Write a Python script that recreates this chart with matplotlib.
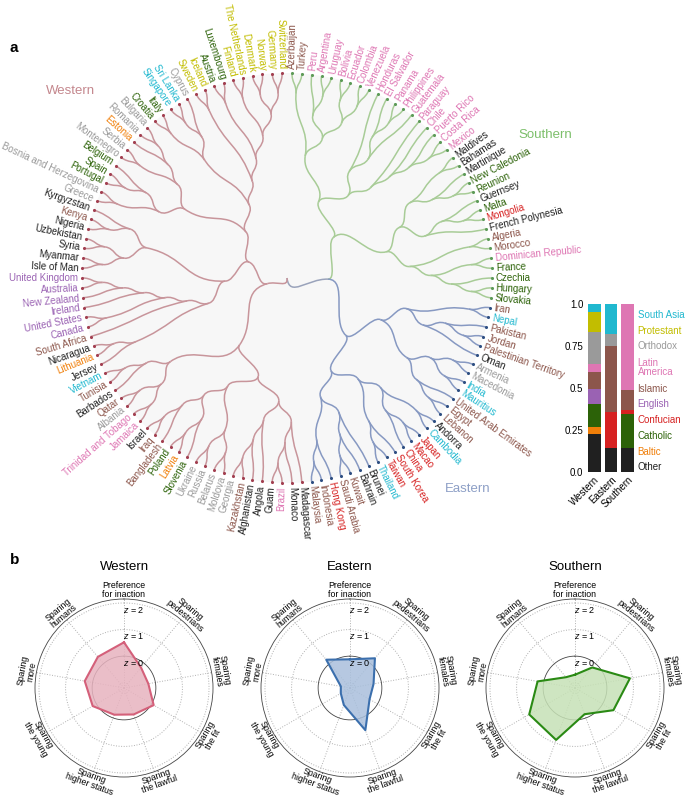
import re
import numpy as np
import matplotlib
matplotlib.use('Agg')
import matplotlib.pyplot as plt
from matplotlib.path import Path
from matplotlib.patches import PathPatch, Circle

plt.rcParams['font.family'] = ['Liberation Sans', 'DejaVu Sans']
plt.rcParams['mathtext.fontset'] = 'custom'
plt.rcParams['mathtext.it'] = 'Liberation Sans:italic'
plt.rcParams['mathtext.rm'] = 'Liberation Sans'

# ---------------------------------------------------------------- data
# cluster trees in Newick form (leaf order = clockwise order on the circle)
s_a = "((Azerbaijan,Turkey),((Peru,(Argentina,Uruguay)),((Bolivia,Ecuador),(Colombia,Venezuela))))"
s_b = ("((Honduras,((El Salvador,(Panama,Philippines)),Guatemala)),"
       "(Paraguay,(Chile,(Puerto Rico,(Costa Rica,Mexico)))))")
s_c = ("(((Maldives,Bahamas),(Martinique,(New Caledonia,Reunion))),"
       "((Guernsey,(Malta,Mongolia)),French Polynesia))")
s_d = "((Algeria,Morocco),((Dominican Republic,France),(Czechia,(Hungary,Slovakia))))"
southern_tree = f"(({s_a},{s_b}),({s_c},{s_d}))"

e_a = ("(((Iran,Nepal),((Pakistan,(Jordan,Palestinian Territory)),Oman)),"
       "(((Armenia,Macedonia),(India,Mauritius)),(United Arab Emirates,(Egypt,Lebanon))))")
e_b = "(((Andorra,Cambodia),((Japan,Macao),China)),(South Korea,(Taiwan,Thailand)))"
e_c = "((Brunei,(Bahrain,(Kuwait,Saudi Arabia))),(Hong Kong,(Indonesia,Malaysia)))"
eastern_tree = f"({e_a},({e_b},{e_c}))"

w_a = "((Madagascar,(Monaco,(Brazil,Guam))),(Angola,(Afghanistan,(Kazakhstan,Georgia))))"
w_b = ("(((Moldova,Belarus),(Russia,Ukraine)),"
       "((Slovenia,(Latvia,Poland)),(Bangladesh,(Iraq,Israel))))")
w_c = "(((Jamaica,Trinidad and Tobago),(Albania,Qatar)),(Barbados,(Tunisia,Vietnam)))"
w_d = ("((Jersey,(Lithuania,Nicaragua)),(South Africa,((Canada,United States),"
       "(Ireland,(New Zealand,(Australia,United Kingdom))))))")
w_e = "(((Isle of Man,Myanmar),(Syria,Uzbekistan)),((Nigeria,Kenya),Kyrgyzstan))"
w_f = ("(((Greece,Bosnia and Herzegovina),((Portugal,Spain),Belgium)),"
       "((Montenegro,Serbia),(Estonia,(Romania,Bulgaria))))")
w_g = "((Croatia,Italy),((Singapore,Sri Lanka),Cyprus))"
w_h = ("((Sweden,Iceland),((Austria,Luxembourg),((Finland,The Netherlands),"
       "((Denmark,Norway),(Germany,Switzerland)))))")
western_tree = f"((({w_a},{w_b}),{w_c}),(({w_d},{w_e}),({w_f},({w_g},{w_h}))))"

other = ['Maldives', 'Bahamas', 'Martinique', 'Guernsey', 'French Polynesia', 'Oman', 'Andorra',
         'Brunei', 'Bahrain', 'Madagascar', 'Monaco', 'Guam', 'Angola', 'Afghanistan', 'Israel',
         'Barbados', 'Jersey', 'Nicaragua', 'Isle of Man', 'Myanmar', 'Syria', 'Uzbekistan',
         'Nigeria', 'Kyrgyzstan']
baltic = ['Latvia', 'Lithuania', 'Estonia']
catholic = ['New Caledonia', 'Reunion', 'Malta', 'France', 'Czechia', 'Hungary', 'Slovakia',
            'Slovenia', 'Poland', 'Portugal', 'Spain', 'Belgium', 'Croatia', 'Italy', 'Austria',
            'Luxembourg']
confucian = ['Mongolia', 'Japan', 'Macao', 'China', 'South Korea', 'Taiwan', 'Hong Kong']
english = ['Canada', 'United States', 'Ireland', 'New Zealand', 'Australia', 'United Kingdom']
islamic = ['Azerbaijan', 'Turkey', 'Algeria', 'Morocco', 'Iran', 'Pakistan', 'Jordan',
           'Palestinian Territory', 'United Arab Emirates', 'Egypt', 'Lebanon', 'Kuwait',
           'Saudi Arabia', 'Indonesia', 'Malaysia', 'Kazakhstan', 'Bangladesh', 'Iraq', 'Qatar',
           'Tunisia', 'South Africa', 'Kenya']
latin_america = ['Peru', 'Argentina', 'Uruguay', 'Bolivia', 'Ecuador', 'Colombia', 'Venezuela',
                 'Honduras', 'El Salvador', 'Panama', 'Philippines', 'Guatemala', 'Paraguay',
                 'Chile', 'Puerto Rico', 'Costa Rica', 'Mexico', 'Dominican Republic', 'Brazil',
                 'Jamaica', 'Trinidad and Tobago']
orthodox = ['Armenia', 'Macedonia', 'Georgia', 'Moldova', 'Belarus', 'Russia', 'Ukraine',
            'Albania', 'Greece', 'Bosnia and Herzegovina', 'Montenegro', 'Serbia', 'Romania',
            'Bulgaria', 'Cyprus']
protestant = ['Sweden', 'Iceland', 'Finland', 'The Netherlands', 'Denmark', 'Norway', 'Germany',
              'Switzerland']
south_asia = ['Nepal', 'India', 'Mauritius', 'Cambodia', 'Thailand', 'Vietnam', 'Singapore',
              'Sri Lanka']

culture_names = ['Other', 'Baltic', 'Catholic', 'Confucian', 'English', 'Islamic',
                 'Latin\nAmerica', 'Orthodox', 'Protestant', 'South Asia']
culture_lists = [other, baltic, catholic, confucian, english, islamic, latin_america,
                 orthodox, protestant, south_asia]
culture_colors = ['#202020', '#f07f09', '#2c6208', '#d62121', '#9a62b3', '#8c564b',
                  '#de76b3', '#9a9a9a', '#c2bd00', '#20b8cf']

cluster_names = ['Western', 'Eastern', 'Southern']

# moral dimensions (clockwise from top) and z-scores per cluster
dimensions = ['Preference\nfor inaction', 'Sparing\npedestrians', 'Sparing\nfemales',
              'Sparing\nthe fit', 'Sparing\nthe lawful', 'Sparing\nhigher status',
              'Sparing\nthe young', 'Sparing\nmore', 'Sparing\nhumans']
western_z = [0.52, -0.2, -0.27, 0.09, -0.14, -0.13, 0.16, 0.3, 0.33]
eastern_z = [-0.12, 0.26, -0.3, -0.35, 0.49, -0.52, -0.8, -0.85, 0.19]
southern_z = [-0.7, -0.19, 0.9, 0.47, -0.15, 0.88, 0.79, 0.23, -0.67]

# ---------------------------------------------------------------- helpers
def parse_newick(s):
    s = re.sub(r'\s*([(),])\s*', r'\1', s.strip())
    pos = 0

    def node():
        nonlocal pos
        if s[pos] == '(':
            pos += 1
            kids = [node()]
            while s[pos] == ',':
                pos += 1
                kids.append(node())
            pos += 1
            return kids
        end = pos
        while end < len(s) and s[end] not in ',()':
            end += 1
        name = s[pos:end].strip()
        pos = end
        return name
    return node()


def leaves_of(n):
    if isinstance(n, str):
        return [n]
    out = []
    for c in n:
        out += leaves_of(c)
    return out


W, H = 685, 798
fig = plt.figure(figsize=(W / 100, H / 100), dpi=100)

culture_of = {}
for lst, col in zip(culture_lists, culture_colors):
    for c in lst:
        culture_of[c] = col

subtrees = {'Southern': parse_newick(southern_tree),
            'Eastern': parse_newick(eastern_tree),
            'Western': parse_newick(western_tree)}
members = {k: leaves_of(v) for k, v in subtrees.items()}
cluster_of = {c: k for k, v in members.items() for c in v}
root = [[subtrees['Southern'], subtrees['Eastern']], subtrees['Western']]

link_col = {'Western': '#c8959b', 'Eastern': '#8799c2', 'Southern': '#a8cc97', None: '#9aa3bb'}
dot_col = {'Western': '#a23f50', 'Eastern': '#2f4f82', 'Southern': '#5d9a58'}
label_col = {'Western': '#c4878d', 'Eastern': '#8d9fc6', 'Southern': '#7cbf6a'}

# ---------------------------------------------------------------- a: radial dendrogram
R = 205
ax = fig.add_axes([0, (H - 518) / H, 574 / W, 480 / H])
ax.set_xlim(-287, 287)
ax.set_ylim(-240, 240)
ax.axis('off')
ax.add_patch(Circle((0, 0), R, facecolor='#f7f7f7', edgecolor='none', zorder=0))

all_leaves = leaves_of(root)
step = 360 / len(all_leaves)
leaf_angle = {c: 88.6 - i * step for i, c in enumerate(all_leaves)}


def layout(n):
    if isinstance(n, str):
        return {'angle': leaf_angle[n], 'h': 0, 'kids': [], 'leaves': [n]}
    kids = [layout(c) for c in n]
    lv = sum((k['leaves'] for k in kids), [])
    return {'angle': np.mean([k['angle'] for k in kids]),
            'h': 1 + max(k['h'] for k in kids), 'kids': kids, 'leaves': lv}


tree = layout(root)
Htot = tree['h']


def pol(a, r):
    t = np.deg2rad(a)
    return (r * np.cos(t), r * np.sin(t))


def draw_links(n):
    r0 = R * (1 - n['h'] / Htot)
    for k in n['kids']:
        r1 = R * (1 - k['h'] / Htot)
        rm = (r0 + r1) / 2
        verts = [pol(n['angle'], r0), pol(n['angle'], rm), pol(k['angle'], rm), pol(k['angle'], r1)]
        groups = {cluster_of[c] for c in k['leaves']}
        g = groups.pop() if len(groups) == 1 else None
        ax.add_patch(PathPatch(Path(verts, [Path.MOVETO, Path.CURVE4, Path.CURVE4, Path.CURVE4]),
                               facecolor='none', edgecolor=link_col[g], lw=1.1, zorder=1))
        draw_links(k)


draw_links(tree)

for c in all_leaves:
    a = leaf_angle[c]
    x, y = pol(a, R)
    ax.scatter([x], [y], s=5, color=dot_col[cluster_of[c]], zorder=3, linewidths=0)
    an = (a + 180) % 360 - 180
    if -90 <= an <= 90:
        rot, ha = an, 'left'
    else:
        rot, ha = (an - 180 if an > 0 else an + 180), 'right'
    tx, ty = pol(a, R + 4)
    ax.text(tx, ty, c, rotation=rot, rotation_mode='anchor', ha=ha, va='center',
            fontsize=7, color=culture_of[c])

ax.text(-216, 187, 'Western', color=label_col['Western'], fontsize=9.5, ha='center', va='center')
ax.text(258, 143, 'Southern', color=label_col['Southern'], fontsize=9.5, ha='center', va='center')
ax.text(181, -211, 'Eastern', color=label_col['Eastern'], fontsize=9.5, ha='center', va='center')

# ---------------------------------------------------------------- a: culture composition bars
bx = fig.add_axes([586 / W, (H - 472) / H, 50 / W, 168 / H])
xpos = np.arange(len(cluster_names))
bottom = np.zeros(len(cluster_names))
for lst, col in zip(culture_lists, culture_colors):
    share = np.array([sum(cluster_of[c] == k for c in lst) / len(members[k]) for k in cluster_names])
    bx.bar(xpos, share, 0.75, bottom=bottom, color=col, linewidth=0)
    bottom += share
bx.set_xlim(-0.5, 2.5)
bx.set_ylim(0, 1)
for s in bx.spines.values():
    s.set_visible(False)
bx.set_yticks([0, 0.25, 0.5, 0.75, 1.0])
bx.set_yticklabels(['0.0', '0.25', '0.5', '0.75', '1.0'], fontsize=7)
bx.set_xticks(xpos)
bx.set_xticklabels(cluster_names, rotation=45, ha='right', rotation_mode='anchor', fontsize=7)
bx.tick_params(length=0, pad=2)

ypx = 315
for name, col in zip(culture_names[::-1], culture_colors[::-1]):
    nl = name.count('\n')
    yc = ypx + nl * 5.5
    bx.text(1.03, 1 - (yc - 304) / 168, name, transform=bx.transAxes, color=col, fontsize=7,
            ha='left', va='center', linespacing=0.95)
    ypx += 15.7 + nl * 11

fig.text(10 / W, 1 - 48 / H, 'a', fontsize=11, fontweight='bold', ha='left', va='center')
fig.text(10 / W, 1 - 560 / H, 'b', fontsize=11, fontweight='bold', ha='left', va='center')

# ---------------------------------------------------------------- b: radar charts
theta = np.deg2rad(np.arange(len(dimensions)) * 40)
tt = np.linspace(0, 2 * np.pi, 300)
zmin, zmax = -1.2, 2.15
radar = [(western_z, '#e7b3bf', '#d4607a', 124),
         (eastern_z, '#a9bfdc', '#3b6fad', 350),
         (southern_z, '#c6e1b6', '#2a8a14', 575)]

for name, (z, fc, ec, cx) in zip(cluster_names, radar):
    rx = fig.add_axes([(cx - 89) / W, (H - 777) / H, 178 / W, 178 / H], projection='polar')
    rx.set_theta_zero_location('N')
    rx.set_theta_direction(-1)
    rx.set_ylim(zmin, zmax)
    rx.grid(False)
    rx.set_xticks([])
    rx.set_yticks([])
    rx.spines['polar'].set_linewidth(0.6)
    rx.spines['polar'].set_color('#444444')
    for t in theta:
        rx.plot([t, t], [zmin, zmax], ls=':', lw=0.7, color='#b0b0b0', zorder=1)
    for zr in (-1, 1, 2):
        rx.plot(tt, np.full_like(tt, zr), ls=':', lw=0.7, color='#b0b0b0', zorder=1)
    rx.plot(tt, np.zeros_like(tt), lw=0.6, color='#444444', zorder=2)
    for zr in (2, 1, 0):
        rx.annotate(rf'$z$ = {zr}', xy=(0, zr), xytext=(-1, -5), textcoords='offset points',
                    ha='left', va='center', fontsize=6.5, zorder=6)
    zz = list(z) + [z[0]]
    th = list(theta) + [theta[0]]
    rx.fill(th, zz, color=fc, alpha=0.85, zorder=3, lw=0)
    rx.plot(th, zz, color=ec, lw=1.5, zorder=4)
    for k, (t, lab) in enumerate(zip(theta, dimensions)):
        rot = ((-40 * k + 90) % 180) - 90
        rx.text(t, 2.5, lab, rotation=rot, rotation_mode='anchor', ha='center', va='center',
                fontsize=6.3, linespacing=0.95)
    fig.text(cx / W, 1 - 567 / H, name, fontsize=9.5, ha='center', va='center')

fig.savefig('out.png', dpi=100)
